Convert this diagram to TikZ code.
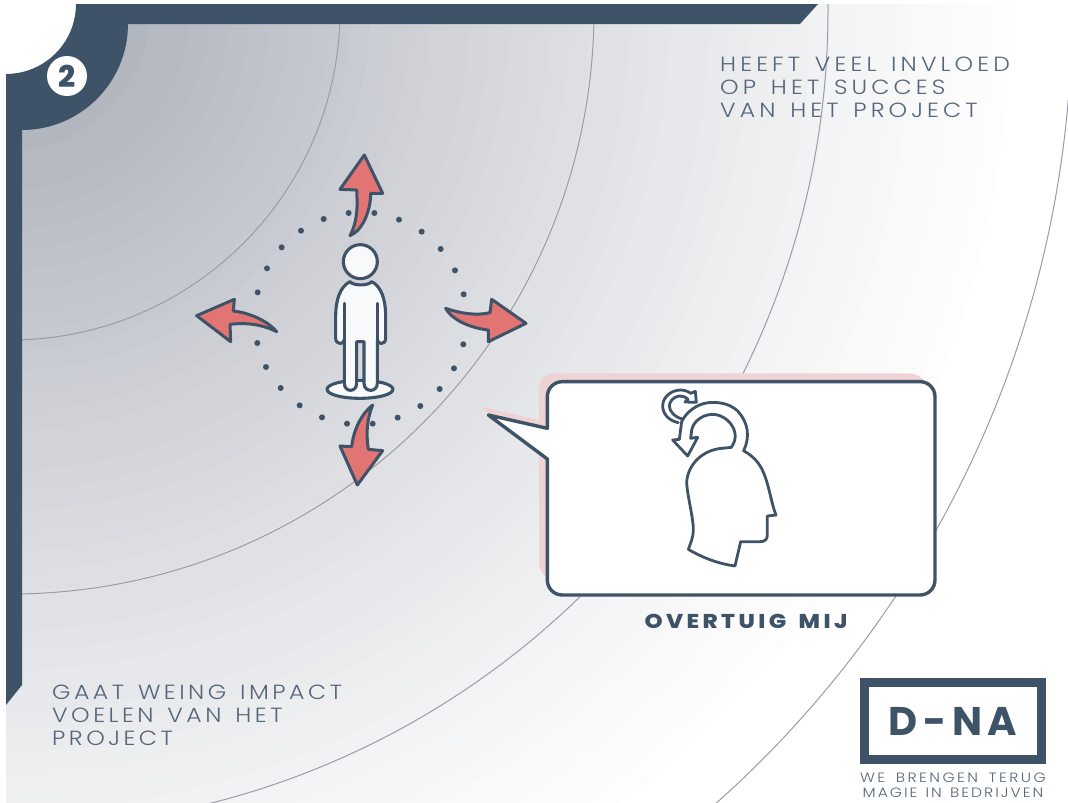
\documentclass[tikz,border=0pt]{standalone}
\usepackage{fontspec}
\setmainfont{Poppins}
\newfontfamily\thinfont[LetterSpace=20,FakeStretch=1.15,WordSpace=1.4]{Poppins Light}
\newfontfamily\thinlowfont[LetterSpace=17,FakeStretch=1.15,WordSpace=1.4]{Poppins Light}
\newfontfamily\tagfont[LetterSpace=18,FakeStretch=1.15,WordSpace=1.6]{Poppins Light}
\newfontfamily\taglowfont[LetterSpace=15,FakeStretch=1.15,WordSpace=1.3]{Poppins Light}
\newfontfamily\boldfont[LetterSpace=17,FakeStretch=1.15,WordSpace=1.6]{Poppins ExtraBold}
\newfontfamily\logofont[LetterSpace=14]{Poppins Bold}
\newfontfamily\numfont{Poppins ExtraBold}
\definecolor{navy}{HTML}{3F5368}
\definecolor{bandcol}{HTML}{A4A8B3}
\definecolor{arccol}{HTML}{9A9DA5}
\definecolor{coral}{HTML}{E27573}
\definecolor{blush}{HTML}{EFD2D4}
\definecolor{figwhite}{HTML}{F8F9FB}
\definecolor{textcol}{HTML}{55657A}
\tikzset{
  figzone/.style={shift={(180pt,-140pt)},x=0.33333pt,y=-0.33333pt},
  bubblezone/.style={shift={(480pt,-360pt)},x=0.33333pt,y=-0.33333pt},
  iconzone/.style={shift={(650pt,-380pt)},x=0.33333pt,y=-0.33333pt},
  ringline/.style={draw=arccol,line width=1pt},
  turnarrow/.style={draw=navy,fill=coral,line width=3pt,line join=round},
  figline/.style={draw=navy,fill=figwhite,line width=3.1pt,line join=round,line cap=round},
  iconline/.style={draw=navy,fill=white,line width=2.8pt,line join=round,line cap=round},
  bigcaption/.style={text=textcol,anchor=north west,align=left,inner sep=0pt},
  tagline/.style={text=textcol,anchor=center,align=center,inner sep=0pt},
}
\begin{document}
\begin{tikzpicture}[x=1pt,y=-1pt]
\useasboundingbox (0,0) rectangle (1068,803);
\fill[white] (0,0) rectangle (1068,803);
% background bands
\begin{scope}
\clip (6,4) rectangle (1068,803);
\foreach \r in {1020,1000,...,20}{
  \pgfmathtruncatemacro\t{100*(1-\r/1040)^1.2}
  \fill[bandcol!\t!white] (10,10) circle (\r pt);
}
\foreach \r in {330,584,818,1062}{
  \draw[ringline] (10,10) circle (\r pt);
}
\end{scope}
\fill[white] (0,0) -- (76,0) -- (76,4) .. controls (76,42.7) and (44.7,74) .. (6,74) -- (0,74) -- cycle;
% frame
\fill[navy] (76,4) -- (818,4) -- (800,24) -- (128,24)
  .. controls (128,82.5) and (80.5,130) .. (22,130)
  -- (22,685) -- (6,705) -- (6,74)
  .. controls (44.7,74) and (76,42.7) .. (76,4) -- cycle;
\node[circle,fill=white,minimum size=40pt,inner sep=0pt,text=navy,font=\numfont\fontsize{30}{30}\selectfont] (badge) at (67,76) {2};
% figure zone
\begin{scope}[figzone]
% arrows
\draw[turnarrow] (553,45) -- (608,160) -- (572,160) .. controls (572,210) and (550,270) .. (510,287) .. controls (535,240) and (532,190) .. (530,150) -- (480,148) -- cycle;
\draw[turnarrow] (50,527) -- (163,478) -- (160,513) .. controls (220,520) and (270,550) .. (290,575) .. controls (240,550) and (190,548) .. (150,553) -- (152,605) -- cycle;
\draw[turnarrow] (1038,550) -- (935,478) -- (930,518) .. controls (890,528) and (840,520) .. (797,505) .. controls (820,545) and (880,565) .. (925,570) -- (925,605) -- cycle;
\draw[turnarrow] (532,1035) -- (480,918) -- (515,920) .. controls (520,870) and (545,820) .. (578,795) .. controls (560,840) and (558,880) .. (565,928) -- (608,932) -- cycle;
\foreach \p in {(506,219),(583,219),(431,237),(657,239),(363,272),(725,275),(305,322),(782,327),(261,385),(825,391),(233,457),(851,463),(232,609),(850,613),(258,681),(822,685),(302,744),(779,747),(359,796),(721,798),(426,832),(653,833),(501,851),(578,851)}{
  \fill[navy] \p circle (3pt);
}
% person
\draw[figline] (540,748) ellipse (33pt and 9pt);
\draw[figline] (510,425) .. controls (520,438) and (565,438) .. (575,425)
  .. controls (605,440) and (617,480) .. (617,530) -- (617,595)
  .. controls (617,615) and (592,615) .. (592,598) -- (592,730)
  .. controls (592,758) and (552,758) .. (552,730) -- (552,605) -- (530,605) -- (530,730)
  .. controls (530,758) and (493,758) .. (493,730) -- (493,598)
  .. controls (493,615) and (467,615) .. (467,595) -- (467,530)
  .. controls (467,480) and (480,440) .. (510,425) -- cycle;
\draw[navy,line width=3.1pt,line cap=round] (493,490) -- (493,600) (592,490) -- (592,600);
\draw[figline] (541,365) circle (17pt);
\end{scope}
% speech bubble
\begin{scope}[bubblezone]
\fill[blush] (177,180) -- (0,140) -- (177,272) -- (177,610) .. controls (177,635) and (197,655) .. (222,655)
  -- (1340,655) -- (1340,70) .. controls (1325,50) and (1305,40) .. (1285,40) -- (222,40) .. controls (197,40) and (177,60) .. (177,85) -- cycle;
\draw[draw=navy,fill=white,line width=3.4pt,line join=round] (202,205) -- (25,165) -- (202,297) -- (202,660)
  .. controls (202,685) and (222,705) .. (247,705) -- (1320,705)
  .. controls (1345,705) and (1365,685) .. (1365,660) -- (1365,110)
  .. controls (1365,85) and (1345,65) .. (1320,65) -- (247,65)
  .. controls (222,65) and (202,85) .. (202,110) -- cycle;
\draw[iconline] (755,262) -- (725,265) .. controls (670,270) and (625,310) .. (620,365)
  .. controls (620,400) and (640,470) .. (640,510) .. controls (640,530) and (632,550) .. (625,568)
  .. controls (670,595) and (720,612) .. (765,618) -- (782,545) -- (840,545)
  .. controls (855,545) and (862,538) .. (862,525) -- (862,468) -- (888,465)
  .. controls (870,420) and (865,350) .. (835,310) .. controls (820,290) and (805,280) .. (790,272);
\end{scope}
\begin{scope}[iconzone]
\draw[iconline] (85,128) .. controls (55,122) and (38,100) .. (38,78) .. controls (38,50) and (65,30) .. (92,30) .. controls (105,30) and (118,36) .. (122,40) -- (136,34) -- (139,67) -- (105,66) -- (114,58) .. controls (105,50) and (95,47) .. (88,48) .. controls (70,50) and (58,65) .. (58,78) .. controls (58,95) and (75,112) .. (100,118);
\draw[iconline] (282,210) .. controls (300,170) and (295,130) .. (265,95) .. controls (240,70) and (205,65) .. (175,68) .. controls (140,72) and (110,95) .. (95,125) -- (88,178) -- (68,180) -- (113,228) -- (143,172) -- (122,175) -- (125,150) .. controls (130,125) and (155,105) .. (185,103) .. controls (220,102) and (250,130) .. (255,160) .. controls (258,175) and (252,190) .. (245,200);
\end{scope}
\node[font=\boldfont\fontsize{20}{20}\selectfont,text=navy,inner sep=0pt] (persuade) at (746,621) {OVERTUIG MIJ};
% captions
\node[bigcaption,font=\thinfont\fontsize{20.5}{23}\selectfont] (high) at (720,57) {HEEFT VEEL INVLOED\\OP HET SUCCES\\VAN HET PROJECT};
\node[bigcaption,font=\thinlowfont\fontsize{20.5}{23}\selectfont] (low) at (52,685) {GAAT WEING IMPACT\\VOELEN VAN HET\\PROJECT};
% logo
\node[draw=navy,line width=9pt,minimum width=177pt,minimum height=77pt,inner sep=0pt,text=navy,font=\logofont\fontsize{40}{40}\selectfont] (logo) at (953,721) {D-NA};
\node[tagline,font=\tagfont\fontsize{13.5}{16}\selectfont] (slogan1) at (953,778) {WE BRENGEN TERUG};
\node[tagline,font=\taglowfont\fontsize{13.5}{16}\selectfont] (slogan2) at (953,793) {MAGIE IN BEDRIJVEN};
\end{tikzpicture}
\end{document}
